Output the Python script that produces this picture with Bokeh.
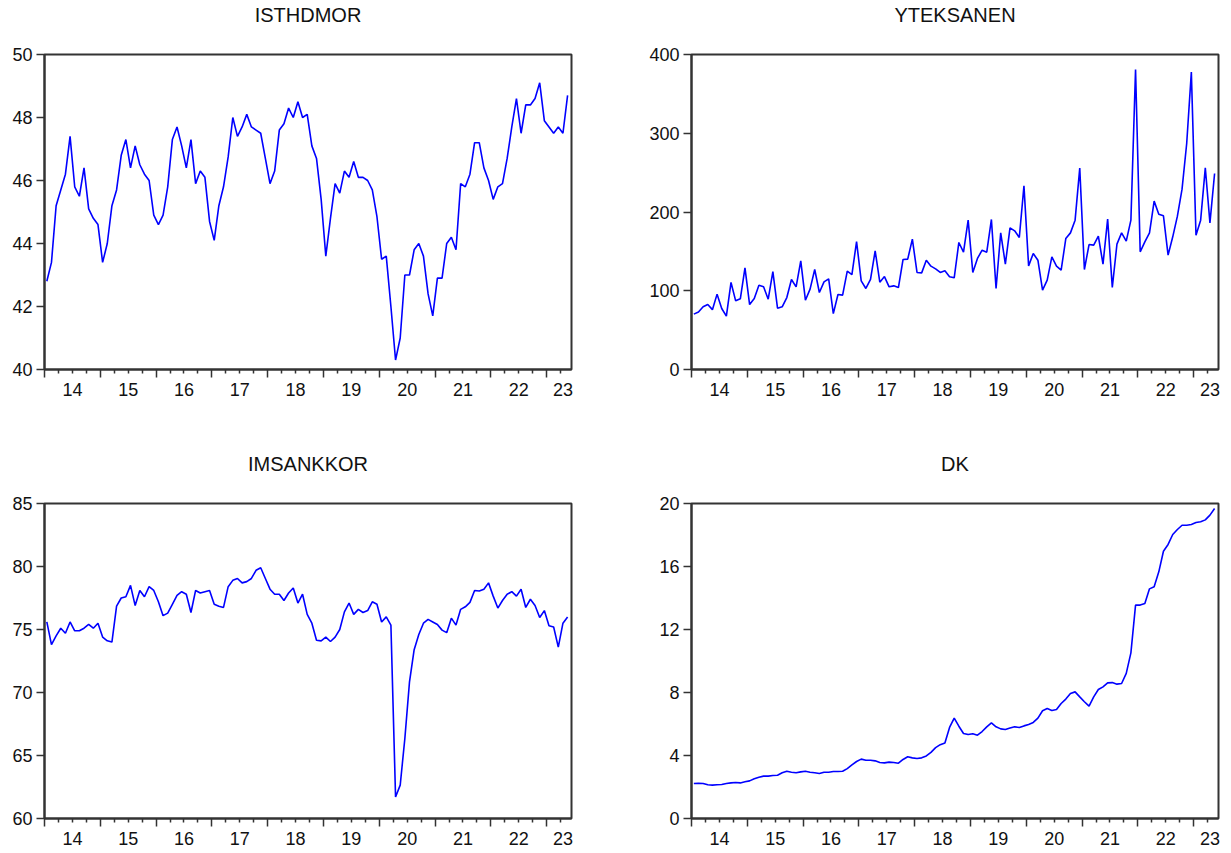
import pandas as pd
from bokeh.plotting import figure
from bokeh.models import LinearAxis, FixedTicker, Range1d, Grid, Title
from bokeh.layouts import column, row
from bokeh.embed import file_html
from bokeh.resources import INLINE

# ---------------- data (monthly, 2014M01 - 2023M05) ----------------
start_month = "2014-01"

isthdmor = [42.8, 43.4, 45.2, 45.7, 46.2, 47.4, 45.8, 45.5, 46.4, 45.1, 44.8, 44.6,
            43.4, 44.0, 45.2, 45.7, 46.8, 47.3, 46.4, 47.1, 46.5, 46.2, 46.0, 44.9,
            44.6, 44.9, 45.8, 47.3, 47.7, 47.1, 46.4, 47.3, 45.9, 46.3, 46.1, 44.7,
            44.1, 45.2, 45.8, 46.75, 48.0, 47.4, 47.7, 48.1, 47.7, 47.6, 47.5, 46.7,
            45.9, 46.3, 47.6, 47.8, 48.3, 48.0, 48.5, 48.0, 48.1, 47.1, 46.7, 45.4,
            43.6, 44.8, 45.9, 45.6, 46.3, 46.1, 46.6, 46.1, 46.1, 46.0, 45.7, 44.85,
            43.5, 43.6, 42.0, 40.3, 41.0, 43.0, 43.0, 43.8, 44.0, 43.6, 42.4, 41.7,
            42.9, 42.9, 44.0, 44.2, 43.8, 45.9, 45.8, 46.2, 47.2, 47.2, 46.4, 46.0,
            45.4, 45.8, 45.9, 46.7, 47.7, 48.6, 47.5, 48.4, 48.4, 48.6, 49.1, 47.9,
            47.7, 47.5, 47.7, 47.5, 48.7]

yteksanen = [70.3, 73.0, 79.6, 82.5, 76.0, 95.7, 77.5, 67.7, 110.5, 87.2, 89.7, 129.0,
             82.5, 90.2, 107.0, 105.0, 89.3, 124.4, 77.9, 79.6, 91.4, 114.3, 105.0, 138.0,
             88.0, 102.0, 127.0, 97.8, 111.3, 115.0, 71.0, 95.2, 94.4, 124.9, 120.6, 162.5,
             112.6, 102.9, 114.3, 150.7, 110.9, 118.0, 105.0, 106.2, 104.1, 139.7, 140.1, 165.5,
             123.2, 122.7, 138.8, 131.2, 127.8, 123.2, 125.3, 117.7, 116.4, 161.3, 149.0, 189.6,
             123.2, 141.0, 151.5, 149.0, 190.5, 102.9, 173.5, 133.8, 179.9, 176.1, 167.6, 233.2,
             131.6, 147.3, 138.8, 100.7, 113.4, 143.1, 131.2, 126.1, 166.3, 173.5, 189.6, 255.7,
             127.0, 158.7, 157.9, 169.3, 133.8, 190.9, 104.1, 159.2, 173.5, 163.0, 189.6, 381.0,
             149.4, 162.1, 173.5, 213.8, 197.2, 195.1, 145.2, 168.5, 194.7, 229.0, 287.0, 377.6,
             170.6, 189.6, 256.1, 186.2, 248.9]

imsankkor = [75.6, 73.8, 74.5, 75.1, 74.7, 75.6, 74.9, 74.9, 75.1, 75.4, 75.1, 75.5,
             74.4, 74.1, 74.0, 76.85, 77.5, 77.6, 78.5, 76.9, 78.1, 77.6, 78.4, 78.1,
             77.2, 76.1, 76.3, 77.0, 77.7, 78.0, 77.8, 76.35, 78.1, 77.9, 78.0, 78.1,
             77.0, 76.85, 76.75, 78.4, 78.9, 79.05, 78.7, 78.8, 79.05, 79.7, 79.9, 79.05,
             78.2, 77.8, 77.8, 77.3, 77.9, 78.3, 77.1, 77.8, 76.2, 75.5, 74.15, 74.1,
             74.4, 74.05, 74.4, 75.0, 76.4, 77.1, 76.2, 76.6, 76.35, 76.5, 77.2, 77.0,
             75.6, 76.0, 75.35, 61.7, 62.65, 66.35, 70.85, 73.4, 74.6, 75.5, 75.8, 75.6,
             75.4, 74.95, 74.75, 75.9, 75.35, 76.6, 76.8, 77.15, 78.1, 78.05, 78.2, 78.7,
             77.65, 76.7, 77.3, 77.8, 78.0, 77.65, 78.2, 76.75, 77.4, 76.9, 75.95, 76.5,
             75.3, 75.2, 73.6, 75.5, 76.0]

dk = [2.22, 2.24, 2.22, 2.14, 2.12, 2.14, 2.16, 2.22, 2.26, 2.29, 2.26, 2.33,
      2.39, 2.52, 2.62, 2.69, 2.69, 2.73, 2.75, 2.90, 3.00, 2.94, 2.90, 2.96,
      3.00, 2.94, 2.90, 2.86, 2.94, 2.94, 2.98, 2.98, 3.00, 3.17, 3.40, 3.62,
      3.77, 3.70, 3.70, 3.66, 3.56, 3.53, 3.58, 3.56, 3.51, 3.75, 3.92, 3.85,
      3.81, 3.85, 3.97, 4.20, 4.50, 4.69, 4.80, 5.78, 6.37, 5.86, 5.40, 5.33,
      5.38, 5.29, 5.52, 5.82, 6.07, 5.82, 5.69, 5.65, 5.74, 5.82, 5.78, 5.88,
      5.97, 6.10, 6.37, 6.84, 6.98, 6.86, 6.92, 7.30, 7.58, 7.94, 8.04, 7.72,
      7.41, 7.13, 7.72, 8.19, 8.36, 8.61, 8.63, 8.53, 8.57, 9.21, 10.52, 13.55,
      13.55, 13.65, 14.58, 14.71, 15.66, 16.97, 17.40, 18.03, 18.35, 18.62, 18.62, 18.67,
      18.79, 18.84, 18.96, 19.26, 19.68]

titles = ["ISTHDMOR", "YTEKSANEN", "IMSANKKOR", "DK"]
yticks_isthdmor = [40, 42, 44, 46, 48, 50]
yticks_yteksanen = [0, 100, 200, 300, 400]
yticks_imsankkor = [60, 65, 70, 75, 80, 85]
yticks_dk = [0, 4, 8, 12, 16, 20]
years = [2014, 2015, 2016, 2017, 2018, 2019, 2020, 2021, 2022, 2023]
year_labels = ["14", "15", "16", "17", "18", "19", "20", "21", "22", "23"]

# ---------------- derived positions ----------------
periods = pd.period_range(start_month, periods=len(isthdmor), freq="M")
xs = [pp.year + (pp.month - 0.5) / 12.0 for pp in periods]
x_start = float(years[0])
x_end = xs[-1] + 0.07

year_bounds = [float(y) for y in years]
quarter_ticks = [y + q / 4.0 for y in years for q in (1, 2, 3) if y + q / 4.0 < x_end]
label_pos = [min(y + 0.5, x_end - 0.15) for y in years]
label_overrides = {lp: lab for lp, lab in zip(label_pos, year_labels)}

FONT = "Liberation Sans"
AX = "#333333"
TXT = "#111111"
LINE = "#0000FF"


def make_panel(title, values, yticks, width, height, mbl, mbr, mbt, mbb):
    p = figure(width=width, height=height,
               x_range=Range1d(x_start, x_end),
               y_range=Range1d(yticks[0], yticks[-1]),
               output_backend="svg", toolbar_location=None,
               x_axis_location=None, y_axis_location=None,
               min_border_left=mbl, min_border_right=mbr,
               min_border_top=mbt, min_border_bottom=mbb,
               background_fill_color="white", border_fill_color="white")
    p.title = None
    p.center = [c for c in p.center if not isinstance(c, Grid)]
    p.outline_line_color = AX
    p.outline_line_width = 2
    p.outline_line_alpha = 1.0

    # invisible spacer directly above the frame so the title sits higher
    spacer = LinearAxis(ticker=FixedTicker(ticks=[x_start]),
                        axis_line_color=None,
                        major_tick_line_color=None, major_tick_out=29, major_tick_in=0,
                        minor_tick_line_color=None, minor_tick_out=0, minor_tick_in=0,
                        major_label_standoff=0,
                        major_label_text_color=None,
                        major_label_text_font_size="0px")
    p.add_layout(spacer, "above")

    t = Title(text=title, align="center", text_font=FONT, text_font_size="20px",
              text_font_style="normal", text_color=TXT, standoff=0)
    p.add_layout(t, "above")

    # y axis
    yax = LinearAxis(ticker=FixedTicker(ticks=yticks),
                     axis_line_color=AX, axis_line_width=2,
                     major_tick_line_color=AX, major_tick_line_width=1.5,
                     major_tick_out=8, major_tick_in=0,
                     minor_tick_line_color=None,
                     major_label_standoff=4,
                     major_label_text_font=FONT,
                     major_label_text_font_size="18px",
                     major_label_text_color=TXT)
    p.add_layout(yax, "left")

    # x axis: tick marks only (years long, quarters short); its labels are not drawn
    xax_ticks = LinearAxis(ticker=FixedTicker(ticks=year_bounds, minor_ticks=quarter_ticks),
                           axis_line_color=AX, axis_line_width=2,
                           major_tick_line_color=AX, major_tick_line_width=1.5,
                           major_tick_out=8, major_tick_in=0,
                           minor_tick_line_color=AX, minor_tick_line_width=1.5,
                           minor_tick_out=4, minor_tick_in=0,
                           major_label_standoff=0,
                           major_label_text_color=None,
                           major_label_text_font_size="0px")
    p.add_layout(xax_ticks, "below")

    # x axis: year labels centred within each year
    xax_labels = LinearAxis(ticker=FixedTicker(ticks=label_pos),
                            major_label_overrides=label_overrides,
                            axis_line_color=None,
                            major_tick_line_color=None, major_tick_out=0, major_tick_in=0,
                            minor_tick_line_color=None, minor_tick_out=0, minor_tick_in=0,
                            major_label_standoff=5,
                            major_label_text_font=FONT,
                            major_label_text_font_size="18px",
                            major_label_text_color=TXT)
    p.add_layout(xax_labels, "below")

    p.line(xs, values, line_color=LINE, line_width=1.6)
    return p


p1 = make_panel(titles[0], isthdmor, yticks_isthdmor, 628, 449, 44, 57, 54, 80)
p2 = make_panel(titles[1], yteksanen, yticks_yteksanen, 600, 449, 63, 10, 54, 80)
p3 = make_panel(titles[2], imsankkor, yticks_imsankkor, 628, 402, 44, 57, 54, 33)
p4 = make_panel(titles[3], dk, yticks_dk, 600, 402, 63, 10, 54, 33)

layout = column(row(p1, p2), row(p3, p4))

with open("out.html", "w") as f:
    f.write(file_html(layout, INLINE))
